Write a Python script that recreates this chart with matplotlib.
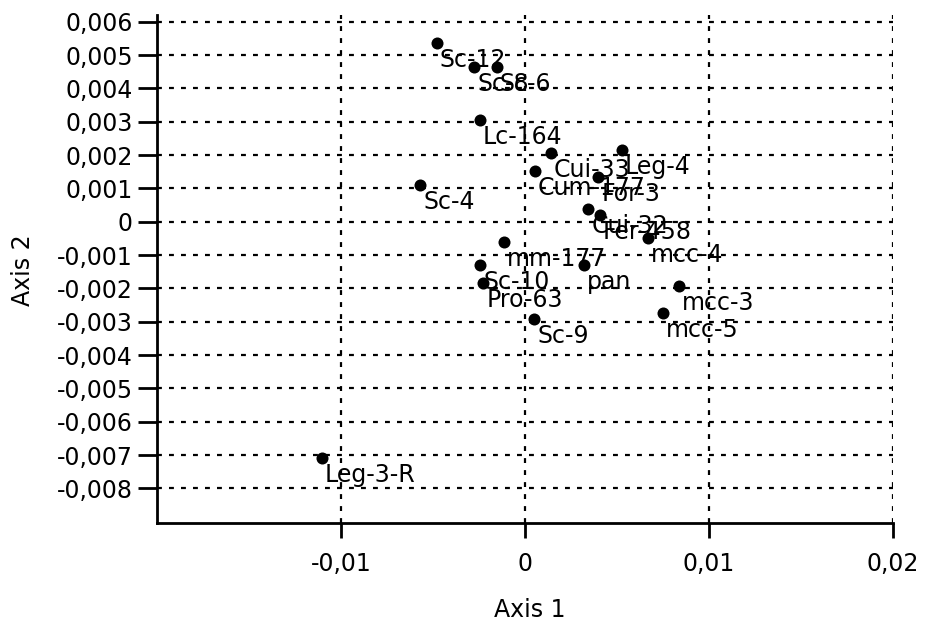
import matplotlib
matplotlib.use("Agg")
import matplotlib.pyplot as plt

# amostras (eixo 1, eixo 2)
nomes = ["Sc-12", "Sc-8", "Sc-6", "Lc-164", "Cui-33", "Leg-4", "Sc-4", "Cum-177",
         "For-3", "Cui-32", "Fer-458", "mcc-4", "mm-177", "pan", "Sc-10", "Pro-63",
         "mcc-3", "mcc-5", "Sc-9", "Leg-3-R"]
eixo1 = [-0.0048, -0.00277, -0.00154, -0.00245, 0.0014, 0.00526, -0.0057, 0.00054,
         0.00398, 0.00344, 0.00408, 0.0067, -0.00114, 0.0032, -0.00245, -0.00227,
         0.00839, 0.00748, 0.00049, -0.01105]
eixo2 = [0.00535, 0.00463, 0.00463, 0.00305, 0.00207, 0.00215, 0.00111, 0.00153,
         0.00135, 0.00037, 0.0002, -0.0005, -0.0006, -0.0013, -0.0013, -0.00185,
         -0.00193, -0.00273, -0.00293, -0.0071]

xticks = [-0.01, 0, 0.01, 0.02]
xlabels = ["-0,01", "0", "0,01", "0,02"]
yticks = [0.006, 0.005, 0.004, 0.003, 0.002, 0.001, 0, -0.001, -0.002, -0.003,
          -0.004, -0.005, -0.006, -0.007, -0.008]
ylabels = ["0,006", "0,005", "0,004", "0,003", "0,002", "0,001", "0", "-0,001",
           "-0,002", "-0,003", "-0,004", "-0,005", "-0,006", "-0,007", "-0,008"]

plt.rcParams['font.family'] = ['DejaVu Sans']
fs = 17

fig = plt.figure(figsize=(9.26, 6.24), dpi=100)
ax = fig.add_axes([157.3/926, 1-522.7/624, (892.7-157.3)/926, (522.7-15.0)/624])

ax.set_xlim(-0.02, 0.02)
ax.set_ylim(-0.00903, 0.0062)

# grade pontilhada
for yv in yticks:
    ax.plot([-0.02, 0.02], [yv, yv], color='black', lw=1.6, dashes=(2.2, 3.2), zorder=1)
for xv in xticks:
    ax.plot([xv, xv], [-0.00903, 0.0062], color='black', lw=1.6, dashes=(2.2, 3.2), zorder=1)

ax.scatter(eixo1, eixo2, s=75, color='black', zorder=3, linewidths=0)
for n, x, y in zip(nomes, eixo1, eixo2):
    ax.annotate(n, (x, y), xytext=(2.2, -12.2), textcoords='offset points',
                ha='left', va='center', fontsize=fs, color='black', zorder=4)

ax.spines['top'].set_visible(False)
ax.spines['right'].set_visible(False)
ax.spines['left'].set_linewidth(2)
ax.spines['bottom'].set_linewidth(2)

ax.set_xticks(xticks)
ax.set_xticklabels(xlabels)
ax.set_yticks(yticks)
ax.set_yticklabels(ylabels)
ax.tick_params(axis='x', direction='out', length=11, width=2, pad=10, labelsize=fs)
ax.tick_params(axis='y', direction='out', length=14, width=2, pad=3.5, labelsize=fs)

fig.text(530/926, 1-610/624, "Axis 1", ha='center', va='center', fontsize=fs)
fig.text(23/926, 1-270/624, "Axis 2", ha='center', va='center', rotation=90, fontsize=fs)

fig.savefig("out.png", dpi=100)
